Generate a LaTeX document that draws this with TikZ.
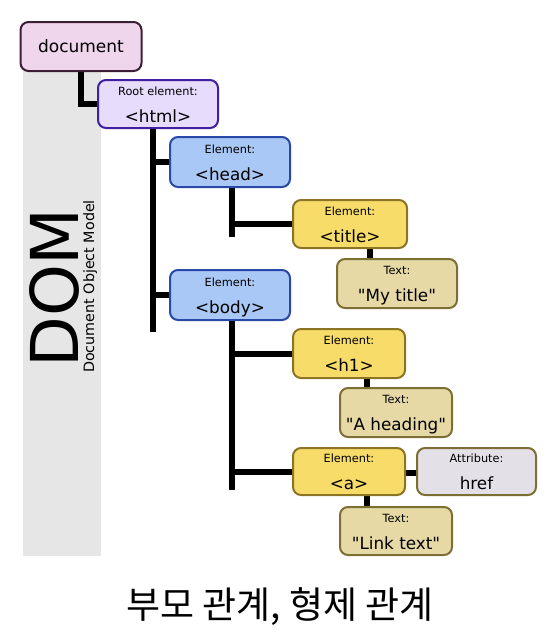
\documentclass[tikz,border=0pt]{standalone}
\usepackage{fontspec}
\usetikzlibrary{backgrounds}
\setmainfont{DejaVu Sans}
\newfontfamily\krfont{Noto Sans CJK KR}
\definecolor{docfill}{HTML}{F0D6EC}
\definecolor{docdraw}{HTML}{3D1F35}
\definecolor{htmlfill}{HTML}{E8DCFC}
\definecolor{htmldraw}{HTML}{4020A0}
\definecolor{elfill}{HTML}{A9C8F5}
\definecolor{eldraw}{HTML}{2A48A8}
\definecolor{yfill}{HTML}{F8DC6A}
\definecolor{ydraw}{HTML}{8C7424}
\definecolor{tfill}{HTML}{E6D9A6}
\definecolor{tdraw}{HTML}{7D6F33}
\definecolor{afill}{HTML}{E4E0E8}
\definecolor{band}{HTML}{E6E6E6}
\tikzset{
  box/.style={draw, line width=2pt, rounded corners=8pt, inner sep=0pt},
  smalltxt/.style={inner sep=0pt, anchor=base, font=\fontsize{11.3}{13}\selectfont},
  bigtxt/.style={inner sep=0pt, anchor=base, font=\fontsize{16.8}{19}\selectfont},
  conn/.style={line width=6pt, black}
}
\newcommand{\qq}{\textquotedbl}
\begin{document}
\begin{tikzpicture}[x=1pt,y=-1pt]
\useasboundingbox (0,0) rectangle (556,640);
% coordinates for trunks
\coordinate (htop) at (153,128);
\coordinate (hbot) at (153,332);
\coordinate (hdtop) at (232,187);
\coordinate (hdbot) at (232,237);
\coordinate (bdtop) at (232,320);
\coordinate (bdbot) at (232,490);
\coordinate (c1) at (370,0);
\coordinate (c2) at (367,0);
% boxes
\node[box, fill=docfill, draw=docdraw, minimum width=121pt, minimum height=49pt] (doc) at (81,46.5) {};
\node[box, fill=htmlfill, draw=htmldraw, minimum width=120pt, minimum height=48pt] (html) at (158,104) {};
\node[box, fill=elfill, draw=eldraw, minimum width=120pt, minimum height=50pt] (head) at (230,162) {};
\node[box, fill=elfill, draw=eldraw, minimum width=120pt, minimum height=50pt] (body) at (230,295) {};
\node[box, fill=yfill, draw=ydraw, minimum width=114pt, minimum height=48pt] (title) at (350,224) {};
\node[box, fill=tfill, draw=tdraw, minimum width=120pt, minimum height=49pt] (mytitle) at (397,283.5) {};
\node[box, fill=yfill, draw=ydraw, minimum width=112pt, minimum height=49pt] (h1) at (349,353.5) {};
\node[box, fill=tfill, draw=tdraw, minimum width=112pt, minimum height=49pt] (heading) at (396,412.5) {};
\node[box, fill=yfill, draw=ydraw, minimum width=112pt, minimum height=47pt] (a) at (349,471.5) {};
\node[box, fill=afill, draw=tdraw, minimum width=119pt, minimum height=47pt] (href) at (476.5,471.5) {};
\node[box, fill=tfill, draw=tdraw, minimum width=112pt, minimum height=48pt] (link) at (396,531) {};
\begin{pgfonlayer}{background}
\fill[band] (23,60) rectangle (101,556);
\draw[conn] (doc.south) |- (html.west);
\draw[conn] (htop) -- (hbot);
\draw[conn] (htop |- head.west) -- (head.west);
\draw[conn] (htop |- body.west) -- (body.west);
\draw[conn] (hdtop) -- (hdbot);
\draw[conn] (hdtop |- title.west) -- (title.west);
\draw[conn] (bdtop) -- (bdbot);
\draw[conn] (bdtop |- h1.west) -- (h1.west);
\draw[conn] (bdtop |- a.west) -- (a.west);
\draw[conn] (c1 |- title.south) -- (c1 |- mytitle.north);
\draw[conn] (c2 |- h1.south) -- (c2 |- heading.north);
\draw[conn] (c2 |- a.south) -- (c2 |- link.north);
\draw[conn] ([yshift=-1pt]a.east) -- ([yshift=-1pt]href.west);
\end{pgfonlayer}
\node[anchor=base west, rotate=90, inner sep=0pt, font=\fontsize{66}{70}\selectfont] (dom) at (78,368) {DOM};
\node[anchor=base west, rotate=90, inner sep=0pt, font=\fontsize{14.3}{16}\selectfont] (dommodel) at (94,373) {Document Object Model};
% texts
\node[inner sep=0pt, font=\fontsize{17}{20}\selectfont] (tdoc) at (doc.center) {document};
\node[smalltxt] (l1) at ([yshift=9pt]html.center) {Root element:};
\node[bigtxt] (b1) at ([yshift=-18pt]html.center) {<html>};
\node[smalltxt] (l2) at ([yshift=9pt]head.center) {Element:};
\node[bigtxt] (b2) at ([yshift=-18pt]head.center) {<head>};
\node[smalltxt] (l3) at ([yshift=9pt]body.center) {Element:};
\node[bigtxt] (b3) at ([yshift=-18pt]body.center) {<body>};
\node[smalltxt] (l4) at ([yshift=9pt]title.center) {Element:};
\node[bigtxt] (b4) at ([yshift=-18pt]title.center) {<title>};
\node[smalltxt] (l5) at ([yshift=9pt]mytitle.center) {Text:};
\node[bigtxt] (b5) at ([yshift=-18pt]mytitle.center) {\qq My title\qq};
\node[smalltxt] (l6) at ([yshift=9pt]h1.center) {Element:};
\node[bigtxt] (b6) at ([yshift=-18pt]h1.center) {<h1>};
\node[smalltxt] (l7) at ([yshift=9pt]heading.center) {Text:};
\node[bigtxt] (b7) at ([yshift=-18pt]heading.center) {\qq A heading\qq};
\node[smalltxt] (l8) at ([yshift=9pt]a.center) {Element:};
\node[bigtxt] (b8) at ([yshift=-18pt]a.center) {<a>};
\node[smalltxt] (l9) at ([yshift=9pt]href.center) {Attribute:};
\node[bigtxt] (b9) at ([yshift=-18pt]href.center) {href};
\node[smalltxt] (l10) at ([yshift=9pt]link.center) {Text:};
\node[bigtxt] (b10) at ([yshift=-18pt]link.center) {\qq Link text\qq};
\node[inner sep=0pt, font=\krfont\fontsize{37}{40}\selectfont] (kr) at (280,607) {부모 관계, 형제 관계};
\end{tikzpicture}
\end{document}
